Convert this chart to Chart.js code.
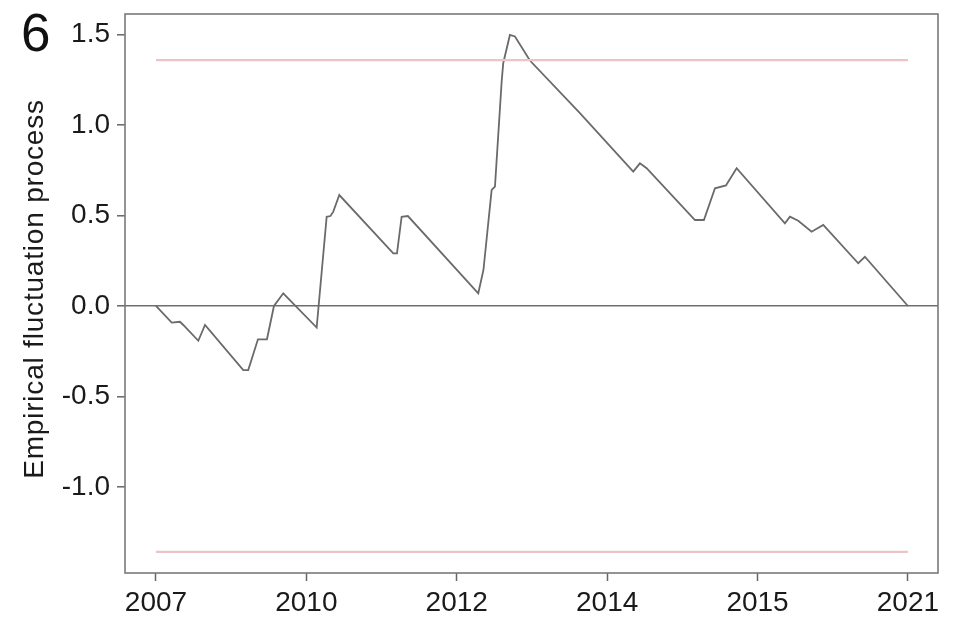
<!DOCTYPE html>
<html>
<head>
<meta charset="utf-8">
<script src="https://cdn.jsdelivr.net/npm/chart.js@4.4.0/dist/chart.umd.min.js"></script>
<style>
  html, body { margin: 0; padding: 0; background: #fff; }
  #wrap { position: relative; width: 958px; height: 623px; }
  #panel {
    position: absolute; left: 21px; top: 6px;
    font: 53px "Liberation Sans", Arial, sans-serif; line-height: 1; color: #111;
  }
  #ytitle {
    position: absolute; left: 32px; top: 289px;
    width: 420px; height: 28px; line-height: 28px; text-align: center;
    font: 28px "Liberation Sans", Arial, sans-serif; letter-spacing: 0.8px;
    color: #1a1a1a; white-space: nowrap;
    transform: translate(-50%, -50%) rotate(-90deg);
  }
  canvas { display: block; }
</style>
</head>
<body>
<div id="wrap">
  <canvas id="c" width="958" height="623"></canvas>
  <div id="panel">6</div>
  <div id="ytitle">Empirical fluctuation process</div>
</div>
<script>
// Observation index (0 = first year label, 100 = last year label)
const obsIndex = [
  0, 2.09, 3.19, 3.63, 5.63, 6.52, 11.61, 12.27, 13.56, 14.76,
  15.69, 16.93, 21.37, 22.70, 23.20, 23.58, 24.38, 31.56, 32.05, 32.67,
  33.50, 42.86, 43.55, 44.64, 45.08, 45.97, 46.18, 47.07, 47.74, 49.73,
  56.38, 63.47, 64.36, 65.25, 71.68, 72.87, 74.34, 75.80, 77.22, 83.64,
  84.31, 85.41, 87.19, 88.74, 93.39, 94.28, 100
];
// Empirical fluctuation process (OLS-based CUSUM)
const fluctuation = [
  0, -0.092, -0.087, -0.105, -0.192, -0.105, -0.354, -0.354, -0.184, -0.184,
  0, 0.070, -0.119, 0.493, 0.497, 0.521, 0.613, 0.291, 0.291, 0.493,
  0.497, 0.070, 0.199, 0.641, 0.659, 1.239, 1.341, 1.497, 1.489, 1.356,
  1.065, 0.742, 0.788, 0.761, 0.475, 0.475, 0.650, 0.666, 0.761, 0.457,
  0.493, 0.471, 0.410, 0.448, 0.236, 0.272, 0
];
// Year labels and their positions along the index
const tickYears = ['2007', '2010', '2012', '2014', '2015', '2021'];
const tickPositions = [0, 20, 40, 60, 80, 100];
// y-axis ticks
const yTicks = [-1.0, -0.5, 0.0, 0.5, 1.0, 1.5];
// 5% critical boundary
const boundary = 1.358;

const series = obsIndex.map((x, i) => ({ x: x, y: fluctuation[i] }));
const first = tickPositions[0], last = tickPositions[tickPositions.length - 1];

const frame = {
  id: 'frame',
  afterDraw(chart) {
    const { ctx, chartArea: a } = chart;
    ctx.save();
    ctx.strokeStyle = '#7a7a7a';
    ctx.lineWidth = 1.6;
    ctx.strokeRect(a.left, a.top, a.right - a.left, a.bottom - a.top);
    ctx.restore();
  }
};

const tickFont = { family: '"Liberation Sans", Arial, sans-serif', size: 28 };

new Chart(document.getElementById('c'), {
  type: 'line',
  data: {
    datasets: [
      {
        data: [{ x: first, y: boundary }, { x: last, y: boundary }],
        borderColor: '#ebc3c9', borderWidth: 2.2, pointRadius: 0
      },
      {
        data: [{ x: first, y: -boundary }, { x: last, y: -boundary }],
        borderColor: '#ebc3c9', borderWidth: 2.2, pointRadius: 0
      },
      {
        data: series,
        borderColor: '#6a6a6a', borderWidth: 1.8, pointRadius: 0, tension: 0
      }
    ]
  },
  options: {
    responsive: false,
    animation: false,
    devicePixelRatio: 1,
    layout: { padding: { top: 14, right: 20, left: 0, bottom: 0 } },
    plugins: { legend: { display: false }, tooltip: { enabled: false } },
    scales: {
      x: {
        type: 'linear',
        min: -4.12, max: 104,
        afterBuildTicks: s => { s.ticks = tickPositions.map(v => ({ value: v })); },
        afterFit: s => { s.height = 50; s.paddingLeft = 0; s.paddingRight = 0; },
        ticks: {
          callback: v => tickYears[tickPositions.indexOf(v)],
          font: tickFont, color: '#1a1a1a', padding: 5,
          maxRotation: 0, autoSkip: false
        },
        grid: { drawOnChartArea: false, tickLength: 8, tickColor: '#666', tickWidth: 1.5 },
        border: { display: false }
      },
      y: {
        type: 'linear',
        min: -1.475, max: 1.613,
        afterBuildTicks: s => { s.ticks = yTicks.map(v => ({ value: v })); },
        afterFit: s => { s.width = 125; s.paddingTop = 0; s.paddingBottom = 0; },
        ticks: {
          callback: v => v.toFixed(1),
          font: tickFont, color: '#1a1a1a', padding: 7
        },
        grid: {
          color: c => (c.tick && c.tick.value === 0) ? '#6e6e6e' : 'rgba(0,0,0,0)',
          lineWidth: 1.6,
          tickLength: 8, tickColor: '#666', tickWidth: 1.5
        },
        border: { display: false }
      }
    }
  },
  plugins: [frame]
});
</script>
</body>
</html>
